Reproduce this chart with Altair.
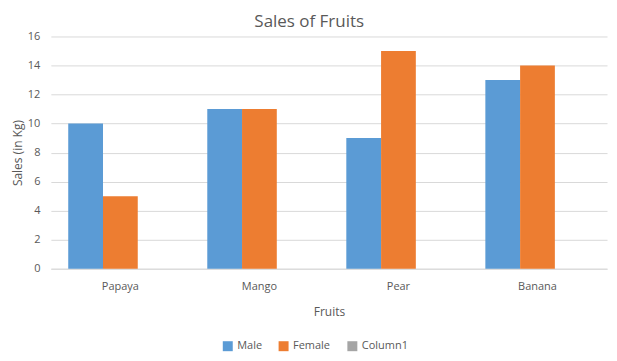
import altair as alt
import pandas as pd

fruits = ["Papaya", "Mango", "Pear", "Banana"]
male = [10, 11, 9, 13]
female = [5, 11, 15, 14]
series = ["Male", "Female", "Column1"]
colors = ["#5B9BD5", "#ED7D31", "#A5A5A5"]

rows = []
for f, m, w in zip(fruits, male, female):
    rows.append({"Fruit": f, "Series": "Male", "Sales": m})
    rows.append({"Fruit": f, "Series": "Female", "Sales": w})
df = pd.DataFrame(rows)

FONT = "Open Sans"
TXT = "#595959"

chart = alt.Chart(df).mark_bar().encode(
    x=alt.X("Fruit:N", sort=fruits, title="Fruits",
            scale=alt.Scale(paddingInner=0.25, paddingOuter=0.125),
            axis=alt.Axis(labelAngle=0, ticks=False, domainColor="#D9D9D9",
                          labelPadding=12, titlePadding=15)),
    xOffset=alt.XOffset("Series:N", scale=alt.Scale(domain=series, paddingInner=0, paddingOuter=0)),
    y=alt.Y("Sales:Q", title="Sales (in Kg)",
            scale=alt.Scale(domain=[0, 16]),
            axis=alt.Axis(values=list(range(0, 17, 2)), ticks=False, domain=False,
                          labelPadding=11, titlePadding=3, gridColor="#D9D9D9")),
    color=alt.Color("Series:N", scale=alt.Scale(domain=series, range=colors),
                    legend=alt.Legend(orient="none", legendX=172, legendY=305,
                                      direction="horizontal", title=None,
                                      symbolType="square", symbolSize=100,
                                      labelFontSize=11, labelColor=TXT, labelFont=FONT,
                                      columnPadding=16, symbolStrokeWidth=0)),
).properties(
    width=558, height=233,
    title=alt.TitleParams("Sales of Fruits", fontSize=17, font=FONT, color=TXT,
                          fontWeight="normal", anchor="middle", frame="bounds", offset=0),
).configure(
    padding={"left": 3, "right": 2, "top": 4, "bottom": 5},
).configure_axis(
    labelFont=FONT, titleFont=FONT, labelColor=TXT, titleColor=TXT,
    labelFontSize=11, titleFontSize=12, titleFontWeight="normal",
).configure_view(stroke=None)

chart.save("out.html", embed_options={"renderer": "svg", "actions": False})
